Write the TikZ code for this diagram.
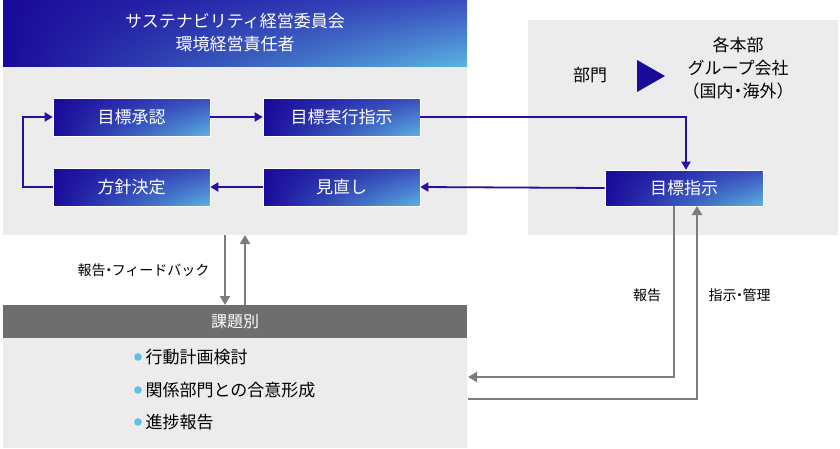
\documentclass[tikz,border=0pt]{standalone}
\usepackage{fontspec}
\setmainfont{Noto Sans CJK JP}
\usetikzlibrary{arrows.meta,shadings}
\definecolor{dk}{HTML}{1A0A9A}
\definecolor{md}{HTML}{3A4EC0}
\definecolor{lt}{HTML}{5AB4E2}
\definecolor{pan}{HTML}{ECECEC}
\definecolor{gr}{HTML}{6E6E6E}
\definecolor{ln}{HTML}{2A0C9E}
\definecolor{bul}{HTML}{5CC0E8}
\newcommand{\nd}{\kern-4pt・\kern-4pt}
\begin{document}
\begin{tikzpicture}[x=1pt,y=-1pt,
  box/.style={draw=white,line width=0.6pt,upper left=dk,lower left=dk,upper right=md,lower right=lt,minimum width=157pt,minimum height=38pt,inner sep=0pt,text=white,font=\fontsize{17}{20}\selectfont},
  barr/.style={draw=ln,line width=1.8pt,-{Triangle[length=8pt,width=9pt]}},
  garr/.style={draw=gr!90,line width=2.2pt,-{Triangle[length=9pt,width=10pt]}},
  lab/.style={font=\fontsize{14}{16}\selectfont,text=black},
  item/.style={font=\fontsize{17}{20}\selectfont,anchor=west}]
\useasboundingbox (0,0) rectangle (840,448);
\fill[white] (0,0) rectangle (840,448);
% panels
\fill[pan] (3,66) rectangle (467,235);
\fill[pan] (528,20) rectangle (838,235);
\fill[pan] (3,338) rectangle (467,448);
\shade[upper left=dk,lower left=dk,upper right=md,lower right=lt] (3,0) rectangle (467,66);
\node[text=white,font=\fontsize{17}{23}\selectfont,align=center] (hdr) at (235,33) {サステナビリティ経営委員会\\環境経営責任者};
\fill[gr] (3,305) rectangle (467,338);
\node[text=white,font=\fontsize{16}{18}\selectfont] (kad) at (235,321.5) {課題別};
% boxes
\node[box] (shonin) at (131.5,117) {目標承認};
\node[box] (jikko) at (341.5,117) {目標実行指示};
\node[box] (hoshin) at (131.5,187) {方針決定};
\node[box] (minaoshi) at (341.5,187) {見直し};
\node[box,minimum width=158pt,minimum height=36pt] (shiji) at (684,188) {目標指示};
% right panel
\node[font=\fontsize{17}{20}\selectfont] (bumon) at (590,75) {部門};
\fill[dk] (637,60) -- (665,76) -- (637,92) -- cycle;
\node[font=\fontsize{17}{23}\selectfont,align=center] (kaku) at (738,68) {各本部\\グループ会社\\（国内\nd 海外）};
% blue arrows
\draw[barr] (shonin) -- (jikko);
\draw[barr] (jikko.east) -| (shiji.north -| 686,0);
\draw[barr] (shiji.west) -- (minaoshi.east);
\draw[barr] (minaoshi) -- (hoshin);
\coordinate (lp1) at (23,187);
\coordinate (lp2) at (23,117);
\draw[barr] (hoshin.west) -- (lp1) -- (lp2) -- (shonin.west);
% gray vertical arrows
\coordinate (d1) at (225,235); \coordinate (d2) at (225,305);
\coordinate (u1) at (245,305); \coordinate (u2) at (245,235);
\draw[garr] (d1) -- (d2);
\draw[garr] (u1) -- (u2);
\node[lab,anchor=east] (fb) at (213,270) {報告\nd フィードバック};
% right gray arrows
\coordinate (r1) at (674,206); \coordinate (r2) at (674,377); \coordinate (r3) at (468,377);
\draw[garr] (r1) -- (r2) -- (r3);
\coordinate (s1) at (468,399); \coordinate (s2) at (697,399); \coordinate (s3) at (697,206);
\draw[garr] (s1) -- (s2) -- (s3);
\node[lab] (hok) at (647,295) {報告};
\node[lab,anchor=west] (kanri) at (705,295) {指示\nd 管理};
% bullets
\foreach \y/\t [count=\i] in {357/行動計画検討,390/関係部門との合意形成,422/進捗報告}{
  \fill[bul] (138,\y) circle (3.8pt);
  \node[item] (it\i) at (142,\y) {\t};
}
\end{tikzpicture}
\end{document}
